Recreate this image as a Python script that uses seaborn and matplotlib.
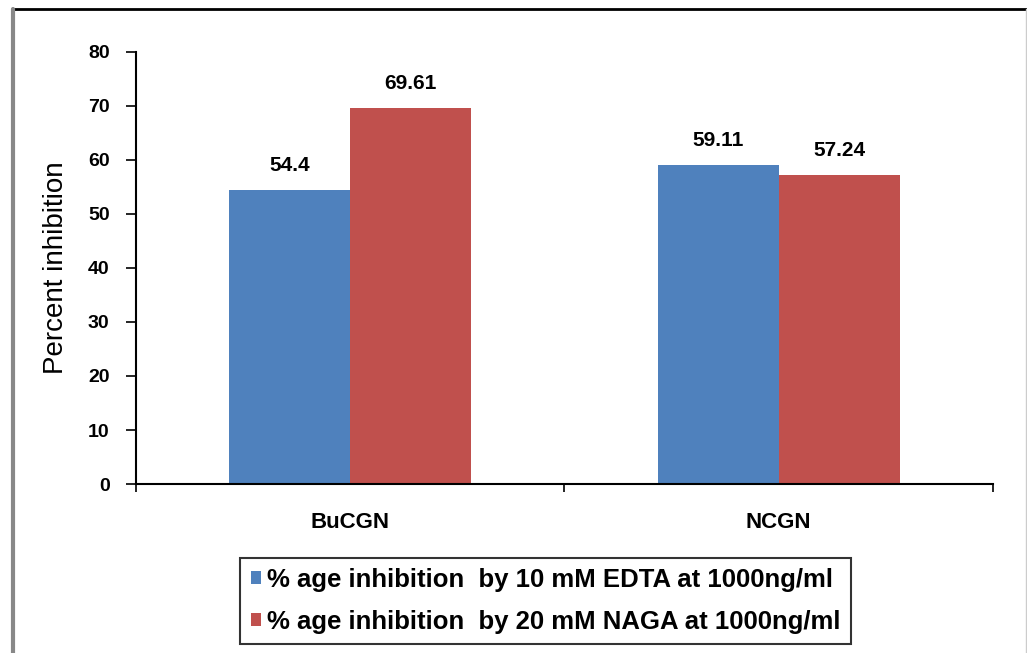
import matplotlib
matplotlib.use("Agg")
import matplotlib.pyplot as plt
import seaborn as sns
import pandas as pd
from matplotlib.lines import Line2D

categories = ["BuCGN", "NCGN"]
series_names = ["% age inhibition  by 10 mM EDTA at 1000ng/ml",
                "% age inhibition  by 20 mM NAGA at 1000ng/ml"]
edta_values = [54.4, 59.11]
naga_values = [69.61, 57.24]
value_labels_edta = ["54.4", "59.11"]
value_labels_naga = ["69.61", "57.24"]
y_ticks = [0, 10, 20, 30, 40, 50, 60, 70, 80]

sns.set_theme(style="white")
plt.rcParams['font.family'] = ['Liberation Sans', 'DejaVu Sans']
plt.rcParams['text.color'] = 'black'
plt.rcParams['axes.labelcolor'] = 'black'
plt.rcParams['xtick.color'] = 'black'
plt.rcParams['ytick.color'] = 'black'

df = pd.DataFrame({
    "cat": categories * 2,
    "series": [series_names[0]] * 2 + [series_names[1]] * 2,
    "val": edta_values + naga_values,
})

fig = plt.figure(figsize=(10.27, 6.53), dpi=100)
ax = fig.add_axes([0.1324, 0.2588, 0.9669 - 0.1324, 0.9204 - 0.2588])

sns.barplot(data=df, x="cat", y="val", hue="series", ax=ax,
            palette=["#4F81BD", "#C0504D"], width=0.565, saturation=1,
            edgecolor="none", linewidth=0, legend=True)

ax.set_xlim(-0.5, 1.5)
ax.set_ylim(0, 80)
ax.set_yticks(y_ticks)
ax.set_yticklabels([str(t) for t in y_ticks], fontsize=14, fontweight="bold")
ax.set_xticks([0, 1])
ax.set_xticklabels(categories, fontsize=16, fontweight="bold")
ax.tick_params(axis="x", which="major", bottom=True, length=0, pad=20)
ax.set_xticks([-0.5, 0.5, 1.5], minor=True)
ax.tick_params(axis="x", which="minor", bottom=True, length=6, width=1.2,
               direction="out", color="black")
ax.tick_params(axis="y", left=True, length=7, width=1.2, direction="out",
               color="black", pad=12)
ax.set_xlabel("")
ax.set_ylabel("Percent inhibition", fontsize=20, labelpad=14)

for s in ["top", "right"]:
    ax.spines[s].set_visible(False)
for s in ["left", "bottom"]:
    ax.spines[s].set_color("black")
    ax.spines[s].set_linewidth(1.5)

labels = [value_labels_edta, value_labels_naga]
for ci, cont in enumerate(ax.containers):
    ax.bar_label(cont, labels=labels[ci], padding=11, fontsize=15, fontweight="bold")

handles, _ = ax.get_legend_handles_labels()
leg = ax.legend(handles, series_names, loc="upper center",
                bbox_to_anchor=(0.478, -0.171), ncol=1, frameon=True,
                fancybox=False, prop={"weight": "bold", "size": 18.5},
                handlelength=0.4, handleheight=0.4, handletextpad=0.25,
                labelspacing=0.7, borderpad=0.4, borderaxespad=0)
leg.get_frame().set_edgecolor("black")
leg.get_frame().set_linewidth(1.5)

# outer frame
fig.add_artist(Line2D([12/1027, 1026/1027], [1 - 9/653, 1 - 9/653],
                      transform=fig.transFigure, color="black", lw=2))
fig.add_artist(Line2D([13/1027, 13/1027], [0, 1 - 9/653],
                      transform=fig.transFigure, color="#888888", lw=3))
fig.add_artist(Line2D([1025.5/1027, 1025.5/1027], [0, 1 - 9/653],
                      transform=fig.transFigure, color="#cccccc", lw=1))

fig.savefig("out.png", dpi=100)
